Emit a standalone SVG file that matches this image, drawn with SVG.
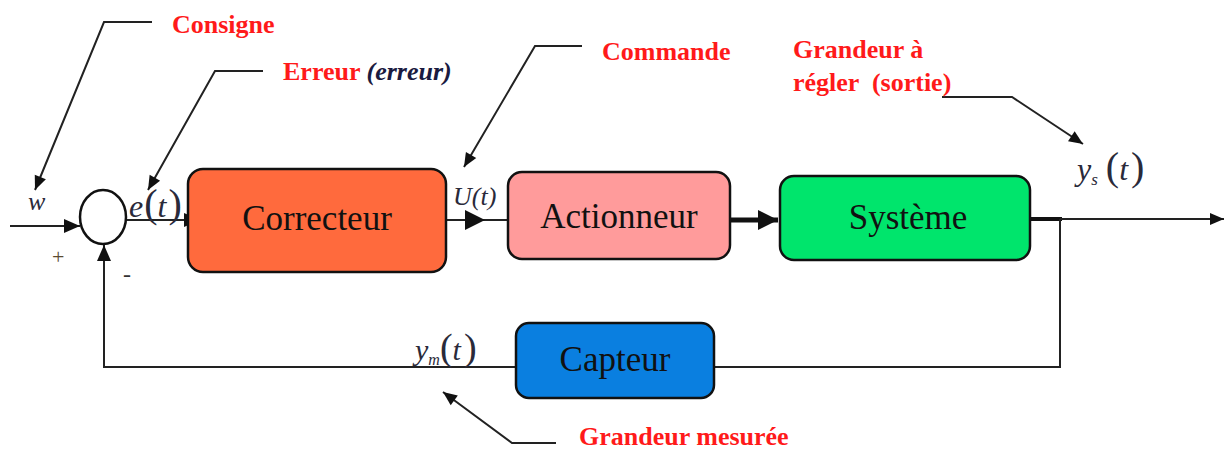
<svg xmlns="http://www.w3.org/2000/svg" width="1227" height="450" viewBox="0 0 1227 450">
<style>
.box{stroke:#111;stroke-width:2.5}
.lbl{font-family:"Liberation Serif","Times New Roman",serif;font-size:35px;fill:#111;text-anchor:middle}
.red{font-family:"Liberation Serif","Times New Roman",serif;font-size:26px;font-weight:bold;fill:#ff1a1a}
.math{font-family:"Liberation Serif","Times New Roman",serif;font-style:italic;fill:#2a2a3a}
.par{font-style:normal;font-weight:normal}
.wire{fill:none;stroke:#222;stroke-width:2}
.lead{fill:none;stroke:#222;stroke-width:2}
</style>
<defs>
<marker id="ah" markerUnits="userSpaceOnUse" markerWidth="20" markerHeight="20" refX="18" refY="10" orient="auto"><path d="M2,3 L18,10 L2,17 Z" fill="#111"/></marker>
<marker id="ahb" markerUnits="userSpaceOnUse" markerWidth="24" markerHeight="24" refX="22" refY="12" orient="auto"><path d="M2,2 L22,12 L2,22 Z" fill="#111"/></marker>
<marker id="ahs" markerUnits="userSpaceOnUse" markerWidth="16" markerHeight="16" refX="15" refY="8" orient="auto"><path d="M1,2 L15,8 L1,14 Z" fill="#111"/></marker>
</defs>

<g id="connectors">
<path class="wire" d="M10,226 H80" marker-end="url(#ah)"/>
<path class="wire" d="M126,220 H200" marker-end="url(#ah)"/>
<path class="wire" d="M447,220 H485" marker-end="url(#ahb)"/>
<path class="wire" d="M485,220 H508"/>
<path fill="none" stroke="#111" stroke-width="5" d="M730,220 H778" marker-end="url(#ahb)"/>
<path fill="none" stroke="#111" stroke-width="4" d="M1030,219 H1062"/>
<path class="wire" d="M1060,219 H1224" marker-end="url(#ahs)"/>
<path class="wire" d="M1060,219 V367 H714"/>
<path class="wire" d="M516,367 H104 V245" marker-end="url(#ah)"/>
<path class="lead" d="M152,22 H104 L35,190" marker-end="url(#ahs)"/>
<path class="lead" d="M263,71 H215 L148,190" marker-end="url(#ahs)"/>
<path class="lead" d="M582,46 H535 L464,167" marker-end="url(#ahs)"/>
<path class="lead" d="M942,97 H1012 L1083,144" marker-end="url(#ahs)"/>
<path class="lead" d="M556,443 H512 L443,392" marker-end="url(#ahs)"/>
</g>

<g id="sum">
<ellipse cx="103" cy="217" rx="23" ry="27" fill="#fff" stroke="#111" stroke-width="2.5"/>
</g>

<g id="correcteur">
<rect class="box" x="188" y="169" width="258" height="103" rx="15" fill="#ff6a3d"/>
<text class="lbl" x="317" y="230">Correcteur</text>
</g>
<g id="actionneur">
<rect class="box" x="508" y="172" width="222" height="87" rx="14" fill="#ff9b9b"/>
<text class="lbl" x="619" y="228">Actionneur</text>
</g>
<g id="systeme">
<rect class="box" x="780" y="176" width="250" height="84" rx="14" fill="#00e56c"/>
<text class="lbl" x="908" y="229">Système</text>
</g>
<g id="capteur">
<rect class="box" x="516" y="323" width="198" height="75" rx="13" fill="#0a7fe0"/>
<text class="lbl" x="615" y="371">Capteur</text>
</g>

<g id="labels">
<text class="red" x="172" y="33">Consigne</text>
<text class="red" x="283" y="80" font-size="22">Erreur <tspan font-style="italic" fill="#1a1a40">(erreur)</tspan></text>
<text class="red" x="602" y="60">Commande</text>
<text class="red" x="793" y="58">Grandeur à</text>
<text class="red" x="793" y="91" xml:space="preserve">régler  (sortie)</text>
<text class="red" x="579" y="445">Grandeur mesurée</text>

<text class="math" x="28" y="210" font-size="26">w</text>
<text x="52" y="264" font-family="Liberation Serif, serif" font-size="22" fill="#5a4a30">+</text>
<text x="123" y="282" font-family="Liberation Serif, serif" font-size="24" fill="#333">-</text>
<text class="math" x="129" y="217" font-size="32">e<tspan class="par" font-size="40" dx="1">(</tspan>t<tspan class="par" font-size="40" dx="2">)</tspan></text>
<text class="math" x="453" y="205" font-size="26">U(t)</text>
<text class="math" x="1077" y="180" font-size="32">y<tspan font-size="17" dy="5">s</tspan><tspan dy="-5" class="par" font-size="40" dx="8">(</tspan>t<tspan class="par" font-size="40" dx="3">)</tspan></text>
<text class="math" x="415" y="360" font-size="30">y<tspan font-size="16" dy="5">m</tspan><tspan dy="-5" class="par" font-size="38">(</tspan>t<tspan class="par" font-size="38" dx="3">)</tspan></text>
</g>
</svg>
